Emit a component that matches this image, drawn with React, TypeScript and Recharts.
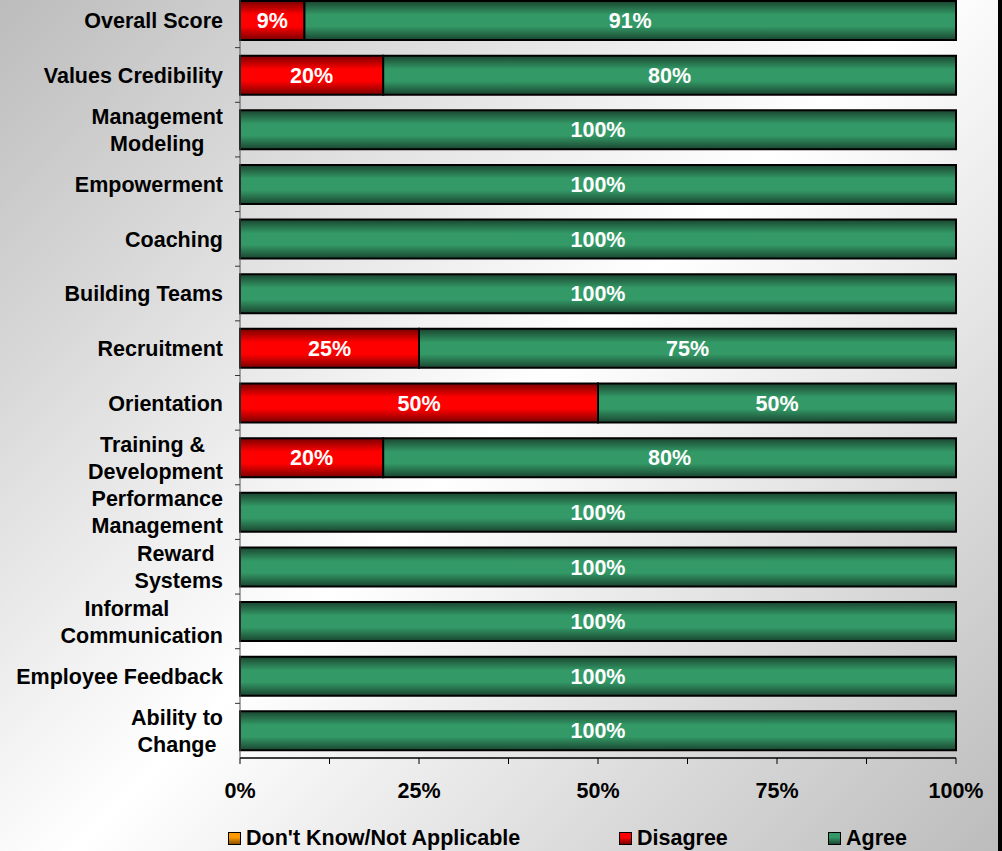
import React from 'react';
import { BarChart, Bar, XAxis, YAxis, LabelList } from 'recharts';

const categories = [
  'Overall Score',
  'Values Credibility',
  'Management\nModeling',
  'Empowerment',
  'Coaching',
  'Building Teams',
  'Recruitment',
  'Orientation',
  'Training & \nDevelopment',
  'Performance\nManagement',
  'Reward \nSystems',
  'Informal     \nCommunication',
  'Employee Feedback',
  'Ability to\nChange',
];
const dontKnow = [0, 0, 0, 0, 0, 0, 0, 0, 0, 0, 0, 0, 0, 0];
const disagree = [9, 20, 0, 0, 0, 0, 25, 50, 20, 0, 0, 0, 0, 0];
const agree = [91, 80, 100, 100, 100, 100, 75, 50, 80, 100, 100, 100, 100, 100];
const xTicks = [0, 12.5, 25, 37.5, 50, 62.5, 75, 87.5, 100];
const seriesKeys = ['dontKnow', 'disagree', 'agree'];
const seriesNames = ["Don't Know/Not Applicable", 'Disagree', 'Agree'];
const seriesColors = ['#ff9900', '#ff0000', '#339966'];
const seriesDark = ['#8a5200', '#7a0000', '#1a4530'];

const data = categories.map((c, i) => ({
  name: c,
  dontKnow: dontKnow[i],
  disagree: disagree[i],
  agree: agree[i],
}));

const FONT = "'Liberation Sans', Arial, sans-serif";
const FS = 21.5;

let measureCtx: CanvasRenderingContext2D | null = null;
function measure(t: string): number {
  if (!measureCtx) {
    const c = document.createElement('canvas');
    measureCtx = c.getContext('2d');
  }
  if (!measureCtx) return t.length * 12;
  measureCtx.font = `bold ${FS}px ${FONT}`;
  return measureCtx.measureText(t).width;
}

const CHART_W = 1002;
const CHART_H = 900;
const MARGIN = { top: 14, right: 46, bottom: 91, left: 0 };
const X_AXIS_H = 30;
const PLOT_H = CHART_H - MARGIN.top - MARGIN.bottom - X_AXIS_H;
const BAND = PLOT_H / categories.length;

const YTick = (props: any) => {
  const { x, y, payload } = props;
  const lines: string[] = String(payload.value).split('\n');
  const axisX = x + 17;
  const boundaryY = y - BAND / 2;
  const tickMark = (
    <line x1={axisX - 5} y1={boundaryY} x2={axisX} y2={boundaryY} stroke="#333" strokeWidth={1} />
  );
  if (lines.length === 1) {
    return (
      <g>
        {tickMark}
        <text x={x} y={y} dy="0.36em" textAnchor="end" fontFamily={FONT} fontWeight="bold" fontSize={FS} fill="#000">
          {lines[0]}
        </text>
      </g>
    );
  }
  const maxW = Math.max(...lines.map(measure));
  const cx = x - maxW / 2;
  return (
    <g>
      {tickMark}
      {lines.map((l, i) => (
        <text
          key={i}
          x={cx}
          y={y + (i - (lines.length - 1) / 2) * 27}
          dy="0.36em"
          textAnchor="middle"
          fontFamily={FONT}
          fontWeight="bold"
          fontSize={FS}
          fill="#000"
          xmlSpace="preserve"
          style={{ whiteSpace: 'pre' }}
        >
          {l}
        </text>
      ))}
    </g>
  );
};

export default function App() {
  return (
    <div
      style={{
        position: 'absolute',
        left: 0,
        top: 0,
        width: 1002,
        height: 851,
        overflow: 'hidden',
        boxSizing: 'border-box',
        borderRight: '4px solid #000',
        background: 'linear-gradient(135deg, #bcbcbc 0%, #ffffff 50%, #bcbcbc 100%)',
        fontFamily: FONT,
      }}
    >
      <div style={{ position: 'absolute', left: 0, top: -21 }}>
        <BarChart
          width={CHART_W}
          height={CHART_H}
          data={data}
          layout="vertical"
          margin={MARGIN}
          barSize={39}
        >
          <defs>
            {seriesKeys.map((k, i) => (
              <linearGradient key={k} id={`grad-${k}`} x1="0" y1="0" x2="0" y2="1">
                <stop offset="0%" stopColor={seriesDark[i]} />
                <stop offset="35%" stopColor={seriesColors[i]} />
                <stop offset="65%" stopColor={seriesColors[i]} />
                <stop offset="100%" stopColor={seriesDark[i]} />
              </linearGradient>
            ))}
            <linearGradient id="grad-legend-orange" x1="0" y1="0" x2="0" y2="1">
              <stop offset="0%" stopColor="#ffa000" />
              <stop offset="100%" stopColor="#b86a00" />
            </linearGradient>
          </defs>
          <XAxis
            type="number"
            domain={[0, 100]}
            ticks={xTicks}
            interval={0}
            height={X_AXIS_H}
            tickSize={6}
            tickMargin={19}
            axisLine={{ stroke: '#000', strokeWidth: 1.5 }}
            tickLine={{ stroke: '#000' }}
            tickFormatter={(v: number) => (v % 25 === 0 ? `${v}%` : '')}
            tick={{ fontFamily: FONT, fontWeight: 'bold', fontSize: FS, fill: '#000' }}
          />
          <YAxis
            type="category"
            dataKey="name"
            width={240}
            interval={0}
            tickSize={6}
            tickMargin={11}
            tickLine={false}
            axisLine={{ stroke: '#555', strokeWidth: 1 }}
            tick={<YTick />}
          />
          {seriesKeys.map((k, i) => (
            <Bar
              key={k}
              dataKey={k}
              name={seriesNames[i]}
              stackId="s"
              fill={`url(#grad-${k})`}
              stroke="#000"
              strokeWidth={2}
              isAnimationActive={false}
            >
              <LabelList
                dataKey={k}
                position="center"
                formatter={(v: any) => (v ? `${v}%` : '')}
                fill="#fff"
                fontFamily={FONT}
                fontWeight="bold"
                fontSize={FS}
              />
            </Bar>
          ))}
        </BarChart>
      </div>
      {seriesNames.map((n, i) => (
        <div
          key={n}
          style={{
            position: 'absolute',
            left: [228, 619, 828][i],
            top: 825,
            height: 26,
            display: 'flex',
            alignItems: 'center',
            whiteSpace: 'nowrap',
          }}
        >
          <div
            style={{
              width: 11,
              height: 11,
              background: `linear-gradient(180deg, ${seriesColors[i]} 40%, ${seriesDark[i]} 100%)`,
              border: '1.5px solid #000',
              marginRight: 5,
            }}
          />
          <span style={{ fontWeight: 'bold', fontSize: FS, color: '#000', lineHeight: '26px' }}>{n}</span>
        </div>
      ))}
    </div>
  );
}
